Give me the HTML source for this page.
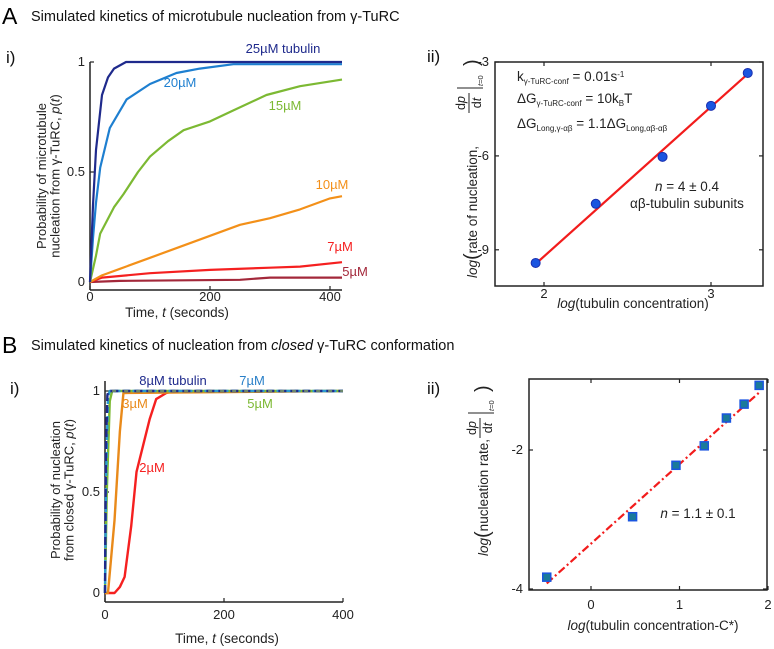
<!DOCTYPE html>
<html><head><meta charset="utf-8">
<style>
html,body{margin:0;padding:0;background:#fff;}
svg{display:block;font-family:"Liberation Sans","DejaVu Sans",sans-serif;}
</style></head>
<body>
<svg id="fig" width="774" height="649" viewBox="0 0 774 649" xmlns="http://www.w3.org/2000/svg">
<rect width="774" height="649" fill="#fff"/>
<!-- Titles -->
<text x="2" y="24" font-size="23" fill="#000">A</text>
<text x="31" y="21" font-size="14.5" fill="#111">Simulated kinetics of microtubule nucleation from γ-TuRC</text>
<text x="2" y="353" font-size="23" fill="#000">B</text>
<text x="31" y="350" font-size="14.5" fill="#111">Simulated kinetics of nucleation from <tspan font-style="italic">closed</tspan> γ-TuRC conformation</text>
<text x="6" y="63" font-size="17" fill="#111">i)</text>
<text x="427" y="62" font-size="17" fill="#111">ii)</text>
<text x="10" y="394" font-size="17" fill="#111">i)</text>
<text x="427" y="394" font-size="17" fill="#111">ii)</text>

<!-- A-i axis frame -->
<g stroke="#222" stroke-width="1.5" fill="none">
<line x1="90" y1="62" x2="90" y2="290"/>
<line x1="90" y1="290" x2="342" y2="290"/>
</g>
<g id="ai"></g>
<text x="177" y="317" font-size="13.5" text-anchor="middle" fill="#222">Time, <tspan font-style="italic">t</tspan> (seconds)</text>
<g transform="translate(46,176) rotate(-90)">
<text x="0" y="0" font-size="13" text-anchor="middle" fill="#222">Probability of microtubule</text>
<text x="0" y="13.5" font-size="13" text-anchor="middle" fill="#222">nucleation from γ-TuRC, <tspan font-style="italic">p</tspan>(<tspan font-style="italic">t</tspan>)</text>
</g>

<!-- A-ii -->
<rect x="495" y="62" width="268" height="224" fill="none" stroke="#222" stroke-width="1.5"/>
<g id="aii"></g>
<text x="517" y="81" font-size="13.5" fill="#222">k<tspan font-size="8" dy="3">γ-TuRC-conf</tspan><tspan dy="-3"> = 0.01s</tspan><tspan font-size="8" dy="-4">-1</tspan></text>
<text x="517" y="103" font-size="13.5" fill="#222">ΔG<tspan font-size="8" dy="3">γ-TuRC-conf</tspan><tspan dy="-3">    = 10k</tspan><tspan font-size="8" dy="3">B</tspan><tspan dy="-3">T</tspan></text>
<text x="517" y="128" font-size="13.5" fill="#222">ΔG<tspan font-size="8" dy="3">Long,γ-αβ</tspan><tspan dy="-3"> = 1.1ΔG</tspan><tspan font-size="8" dy="3">Long,αβ-αβ</tspan></text>
<text x="687" y="191" font-size="13.5" text-anchor="middle" fill="#222"><tspan font-style="italic">n</tspan> = 4 ± 0.4</text>
<text x="687" y="208" font-size="13.5" text-anchor="middle" fill="#222">αβ-tubulin subunits</text>
<text x="633" y="308" font-size="13.5" text-anchor="middle" fill="#222"><tspan font-style="italic">log</tspan>(tubulin concentration)</text>
<g transform="translate(477,0) rotate(-90)" fill="#222">
<text x="-278" y="0" font-size="13.5"><tspan font-style="italic">log</tspan><tspan font-size="20" dy="1">(</tspan><tspan dy="-1">rate of nucleation,</tspan></text>
<text x="-103" y="-12" font-size="12.5" text-anchor="middle">d<tspan font-style="italic">p</tspan></text>
<line x1="-113" y1="-8" x2="-93" y2="-8" stroke="#222" stroke-width="1"/>
<text x="-103" y="4" font-size="12.5" text-anchor="middle">d<tspan font-style="italic">t</tspan></text>
<line x1="-88" y1="-20" x2="-88" y2="6" stroke="#222" stroke-width="1"/>
<text x="-86" y="6" font-size="7.5"><tspan font-style="italic">t</tspan>=0</text>
<text x="-66" y="1" font-size="20">)</text>
</g>

<!-- B-i -->
<g stroke="#222" stroke-width="1.5" fill="none">
<line x1="105" y1="381" x2="105" y2="602"/>
<line x1="105" y1="602" x2="343" y2="602"/>
</g>
<g id="bi"></g>
<text x="227" y="643" font-size="13.5" text-anchor="middle" fill="#222">Time, <tspan font-style="italic">t</tspan> (seconds)</text>
<g transform="translate(60,490) rotate(-90)">
<text x="0" y="0" font-size="13" text-anchor="middle" fill="#222">Probability of nucleation</text>
<text x="0" y="13.5" font-size="13" text-anchor="middle" fill="#222">from closed γ-TuRC, <tspan font-style="italic">p</tspan>(<tspan font-style="italic">t</tspan>)</text>
</g>

<!-- B-ii -->
<rect x="529" y="379" width="238" height="211" fill="none" stroke="#222" stroke-width="1.5"/>
<g id="bii"></g>
<text x="698" y="518" font-size="13.5" text-anchor="middle" fill="#222"><tspan font-style="italic">n</tspan> = 1.1 ± 0.1</text>
<text x="653" y="630" font-size="13.5" text-anchor="middle" fill="#222"><tspan font-style="italic">log</tspan>(tubulin concentration-C*)</text>
<g transform="translate(488,0) rotate(-90)" fill="#222">
<text x="-556" y="0" font-size="13.5"><tspan font-style="italic">log</tspan><tspan font-size="20" dy="1">(</tspan><tspan dy="-1">nucleation rate,</tspan></text>
<text x="-428" y="-12" font-size="12.5" text-anchor="middle">d<tspan font-style="italic">p</tspan></text>
<line x1="-438" y1="-8" x2="-418" y2="-8" stroke="#222" stroke-width="1"/>
<text x="-428" y="4" font-size="12.5" text-anchor="middle">d<tspan font-style="italic">t</tspan></text>
<line x1="-413" y1="-20" x2="-413" y2="6" stroke="#222" stroke-width="1"/>
<text x="-411" y="6" font-size="7.5"><tspan font-style="italic">t</tspan>=0</text>
<text x="-392" y="1" font-size="20">)</text>
</g>
</svg>
<script>
// ---------- Panel A-i data ----------
const aiNames = ["5µM","7µM","10µM","15µM","20µM","25µM tubulin"];
const aiColors = ["#a3283a","#f52020","#f39019","#7cb933","#1e7fd0","#1f2a8c"];
const aiT5 = [0,50,250,300,420];
const aiP5 = [0,0.005,0.01,0.02,0.02];
const aiT7 = [0,20,100,200,300,350,420];
const aiP7 = [0,0.02,0.04,0.055,0.065,0.07,0.09];
const aiT10 = [0,20,50,100,150,200,250,300,350,400,420];
const aiP10 = [0,0.03,0.06,0.11,0.16,0.21,0.26,0.29,0.33,0.38,0.39];
const aiT15 = [0,10,17,40,56,80,100,130,156,200,239,294,350,420];
const aiP15 = [0,0.12,0.22,0.34,0.40,0.50,0.57,0.64,0.69,0.73,0.78,0.85,0.89,0.92];
const aiT20 = [0,5,10,17,33,61,100,144,183,239,420];
const aiP20 = [0,0.2,0.36,0.52,0.7,0.83,0.9,0.95,0.97,0.99,0.99];
const aiT25 = [0,5,10,20,30,40,60,80,420];
const aiP25 = [0,0.35,0.6,0.85,0.93,0.97,1.0,1.0,1.0];
const aiXTicks = [0,200,400];
const aiYTicks = [0,0.5,1];
const aiYTickLabels = ["0","0.5","1"];

// ---------- Panel A-ii data ----------
const aiiX = [1.95,2.31,2.71,3.0,3.22];
const aiiY = [-9.42,-7.53,-6.03,-4.4,-3.35];
const aiiFitX = [1.95,3.22];
const aiiFitY = [-9.45,-3.38];
const aiiXTicks = [2,3];
const aiiYTicks = [-3,-6,-9];

// ---------- Panel B-i data ----------
const biNames = ["2µM","3µM","5µM","7µM","8µM tubulin"];
const biT2 = [0,16,25,33,44,53,64,75,86,103,117];
const biP2 = [0,0,0.03,0.08,0.33,0.6,0.73,0.86,0.96,0.99,1];
const biT3 = [0,5,16,25,31,400];
const biP3 = [0,0,0.36,0.8,0.99,1];
const biT5 = [0,3,8,12,400];
const biP5 = [0,0.5,0.95,1,1];
const biT7 = [0,2,5,8,400];
const biP7 = [0,0.6,0.97,1,1];
const biT8 = [0,1.5,4,6,400];
const biP8 = [0,0.7,0.98,1,1];
const biXTicks = [0,200,400];
const biYTicks = [0,0.5,1];
const biYTickLabels = ["0","0.5","1"];

// ---------- Panel B-ii data ----------
const biiX = [-0.5,0.47,0.96,1.28,1.53,1.73,1.9];
const biiY = [-3.83,-2.96,-2.22,-1.94,-1.54,-1.34,-1.07];
const biiFitX = [-0.5,1.92];
const biiFitY = [-3.92,-1.15];
const biiXTicks = [0,1,2];
const biiYTicks = [-2,-4];

const NS = "http://www.w3.org/2000/svg";
function mk(parent, tag, attrs){
  const e = document.createElementNS(NS, tag);
  for (const k in attrs) e.setAttribute(k, attrs[k]);
  parent.appendChild(e);
  return e;
}
function pathD(xs, ys, sx, sy){
  return xs.map((x,i)=>(i?"L":"M")+sx(x).toFixed(2)+","+sy(ys[i]).toFixed(2)).join(" ");
}
function label(parent, x, y, txt, anchor, size, color){
  const t = mk(parent, "text", {x:x, y:y, "font-size":size||12, "text-anchor":anchor||"middle", fill:color||"#222"});
  t.textContent = txt;
  return t;
}

// ----- A-i -----
(function(){
  const g = document.getElementById("ai");
  const sx = t => 90 + t*0.6;
  const sy = p => 282 - p*220;
  aiXTicks.forEach(v=>{
    const tk = mk(g,"line",{x1:sx(v),x2:sx(v),y1:290,y2:286,stroke:"#222","stroke-width":1.2});
    
    
    const l = label(g, sx(v), 301, String(v), "middle", 13);
    
    
  });
  aiYTicks.forEach((v,i)=>{
    const tk = mk(g,"line",{x1:90,x2:94,y1:sy(v),y2:sy(v),stroke:"#222","stroke-width":1.2});
    
    
    const l = label(g, 85, sy(v)+4, aiYTickLabels[i], "end", 13);
    
    
  });
  const series = [[aiT5,aiP5],[aiT7,aiP7],[aiT10,aiP10],[aiT15,aiP15],[aiT20,aiP20],[aiT25,aiP25]];
  series.forEach((s,i)=>{
    const p = mk(g,"path",{d:pathD(s[0],s[1],sx,sy),fill:"none",stroke:aiColors[i],"stroke-width":2.2,"stroke-linejoin":"round"});
    
    
  });
  const labPos = [[355,276],[340,251],[332,189],[285,110],[180,87],[283,53]];
  aiNames.forEach((n,i)=>{
    const l = label(g, labPos[i][0], labPos[i][1], n, "middle", 13, aiColors[i]);
    
    
  });
})();

// ----- A-ii -----
(function(){
  const g = document.getElementById("aii");
  const sx = x => 544 + (x-2)*167;
  const sy = y => 62 + (-3 - y)*31.3;
  aiiXTicks.forEach(v=>{
    mk(g,"line",{x1:sx(v),x2:sx(v),y1:286,y2:282,stroke:"#222","stroke-width":1.2});
    mk(g,"line",{x1:sx(v),x2:sx(v),y1:62,y2:66,stroke:"#222","stroke-width":1.2});
    const l = label(g, sx(v), 298, String(v), "middle", 13);
    
    
  });
  aiiYTicks.forEach(v=>{
    mk(g,"line",{x1:495,x2:499,y1:sy(v),y2:sy(v),stroke:"#222","stroke-width":1.2});
    mk(g,"line",{x1:763,x2:759,y1:sy(v),y2:sy(v),stroke:"#222","stroke-width":1.2});
    const l = label(g, 489, sy(v)+4, String(v), "end", 13);
    
    
  });
  const fit = mk(g,"path",{d:pathD(aiiFitX,aiiFitY,sx,sy),stroke:"#f21c1c","stroke-width":2.2,fill:"none"});
  
  
  aiiX.forEach((x,i)=>{
    const c = mk(g,"circle",{cx:sx(x),cy:sy(aiiY[i]),r:4.5,fill:"#1a55e0",stroke:"#1a2fb0","stroke-width":1});
    
    
  });
})();

// ----- B-i -----
(function(){
  const g = document.getElementById("bi");
  const sx = t => 105 + t*0.595;
  const sy = p => 593 - p*202;
  biXTicks.forEach(v=>{
    mk(g,"line",{x1:sx(v),x2:sx(v),y1:602,y2:598,stroke:"#222","stroke-width":1.2});
    const l = label(g, sx(v), 619, String(v), "middle", 13);
    
    
  });
  biYTicks.forEach((v,i)=>{
    mk(g,"line",{x1:105,x2:109,y1:sy(v),y2:sy(v),stroke:"#222","stroke-width":1.2});
    const l = label(g, 100, sy(v)+4, biYTickLabels[i], "end", 13);
    
    
  });
  const defs = [
    [biT2,biP2,"#f52020",null,"b-i-curve-2uM"],
    [biT3,biP3,"#e98a1a",null,"b-i-curve-3uM"],
    [biT5,biP5,"#7cb933",null,"b-i-curve-5uM"],
    [biT7,biP7,"#2a9ad0","6,3","b-i-curve-7uM"],
    [biT8,biP8,"#1f2a8c","8,4","b-i-curve-8uM"]
  ];
  defs.forEach(d=>{
    const a = {d:pathD(d[0],d[1],sx,sy),fill:"none",stroke:d[2],"stroke-width":2.4,"stroke-linejoin":"round"};
    if (d[3]) a["stroke-dasharray"] = d[3];
    const p = mk(g,"path",a);
    
    
  });
  const ov = mk(g,"path",{d:pathD([biT5[3],biT5[4]],[biP5[3],biP5[4]],sx,sy),fill:"none",stroke:"#9bc25a","stroke-width":1.2,"stroke-dasharray":"4,8"});
  
  
  const labs = [["8µM tubulin",173,385,"#1f2a8c"],["7µM",252,385,"#2a80c8"],["5µM",260,408,"#7cb933"],["3µM",135,408,"#e98a1a"],["2µM",152,472,"#f52020"]];
  labs.forEach(l=>{
    const t = label(g, l[1], l[2], l[0], "middle", 13, l[3]);
    
    
  });
})();

// ----- B-ii -----
(function(){
  const g = document.getElementById("bii");
  const sx = x => 591 + x*88.5;
  const sy = y => 450 + (-2 - y)*69.5;
  biiXTicks.forEach(v=>{
    mk(g,"line",{x1:sx(v),x2:sx(v),y1:590,y2:586,stroke:"#222","stroke-width":1.2});
    mk(g,"line",{x1:sx(v),x2:sx(v),y1:379,y2:383,stroke:"#222","stroke-width":1.2});
    const l = label(g, sx(v), 609, String(v), "middle", 13);
    
    
  });
  biiYTicks.forEach(v=>{
    mk(g,"line",{x1:529,x2:533,y1:sy(v),y2:sy(v),stroke:"#222","stroke-width":1.2});
    mk(g,"line",{x1:767,x2:763,y1:sy(v),y2:sy(v),stroke:"#222","stroke-width":1.2});
    const l = label(g, 523, sy(v)+4, String(v), "end", 13);
    
    
  });
  const fit = mk(g,"path",{d:pathD(biiFitX,biiFitY,sx,sy),stroke:"#f21c1c","stroke-width":2.2,fill:"none","stroke-dasharray":"8,3,2,3"});
  
  
  biiX.forEach((x,i)=>{
    const r = mk(g,"rect",{x:sx(x)-4,y:sy(biiY[i])-4,width:8,height:8,fill:"#1a7a9a",stroke:"#1a55e0","stroke-width":1.5});
    
    
  });
})();
</script>
</body></html>
